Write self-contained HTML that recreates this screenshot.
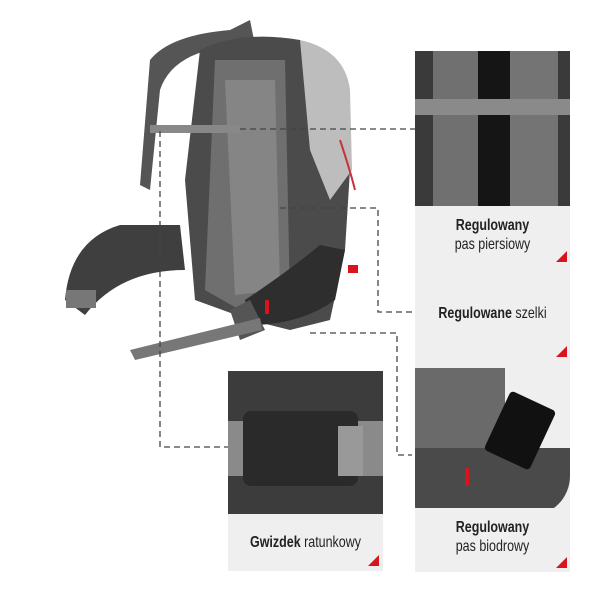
<!DOCTYPE html>
<html><head><style>
body{margin:0;width:600px;height:600px;background:#fff;position:relative;overflow:hidden;font-family:"Liberation Sans",sans-serif}
.p{position:absolute}
.card{position:absolute;background:#efefef}
.t{position:absolute;width:100%;text-align:center;color:#222;font-size:16px;line-height:19px;transform:scaleX(.78)}
.t b{font-weight:bold}
.tri{position:absolute;width:0;height:0;border-left:11px solid transparent;border-bottom:11px solid #d9141f}
</style></head><body>
<svg class="p" style="left:0;top:0" width="600" height="600">
<path d="M150 60 Q170 35 230 30 L250 20 L255 45 Q175 45 160 90 L150 190 L140 185Z" fill="#555"/>
<path d="M200 50 Q240 30 300 40 L330 60 Q352 100 350 170 L345 250 L330 320 L290 330 L250 320 L195 300 L185 180 Z" fill="#4b4b4b"/>
<path d="M300 40 Q345 50 350 90 L352 170 L330 200 L310 150Z" fill="#bdbdbd"/>
<path d="M215 60 L285 60 L290 300 L240 310 L205 290 Z" fill="#6f6f6f"/>
<path d="M225 80 L275 80 L280 290 L235 295Z" fill="#858585"/>
<path d="M65 300 Q70 240 120 225 L180 225 L185 270 Q120 270 85 315Z" fill="#3f3f3f"/>
<path d="M245 300 Q290 270 320 245 L345 250 L335 300 Q300 325 250 325Z" fill="#2e2e2e"/>
<path d="M230 310 L250 300 L265 330 L240 340Z" fill="#555"/>
<path d="M130 350 L260 318 L262 330 L135 360Z" fill="#777"/>
<rect x="66" y="290" width="30" height="18" fill="#777"/>
<rect x="150" y="125" width="90" height="8" fill="#888"/>
<rect x="265" y="300" width="4" height="14" fill="#d9141f"/>
<rect x="348" y="265" width="10" height="8" fill="#d9141f"/>
<path d="M340 140 Q350 170 355 190" stroke="#c8323a" stroke-width="2" fill="none"/>
<g stroke="#444" stroke-width="1.3" stroke-dasharray="6,4" fill="none">
<path d="M240 129 H415"/>
<path d="M160 131 V447 H228"/>
<path d="M280 208 H378 V312 H415"/>
<path d="M310 333 H397 V455 H412"/>
</g>
</svg>

<div class="p" style="left:415px;top:51px;width:155px;height:155px;background:#3a3a3a">
<div class="p" style="left:18px;top:0;width:45px;height:155px;background:#707070"></div>
<div class="p" style="left:95px;top:0;width:48px;height:155px;background:#747474"></div>
<div class="p" style="left:63px;top:0;width:32px;height:155px;background:#151515"></div>
<div class="p" style="left:0;top:48px;width:155px;height:16px;background:#8a8a8a"></div>
</div>
<div class="card" style="left:415px;top:206px;width:155px;height:162px">
<div class="t" style="top:10px"><b>Regulowany</b><br>pas piersiowy</div>
<div class="tri" style="left:141px;top:45px"></div>
<div class="t" style="top:98px"><b>Regulowane</b> szelki</div>
<div class="tri" style="left:141px;top:140px"></div>
</div>

<div class="p" style="left:415px;top:368px;width:155px;height:140px;background:#efefef">
<div class="p" style="left:0;top:0;width:90px;height:85px;background:#6a6a6a"></div>
<div class="p" style="left:0;top:80px;width:155px;height:68px;background:#4a4a4a;border-radius:0 0 40px 10px"></div>
<div class="p" style="left:80px;top:30px;width:50px;height:65px;background:#111;transform:rotate(25deg);border-radius:4px"></div>
<div class="p" style="left:50px;top:100px;width:4px;height:18px;background:#d9141f"></div>
</div>
<div class="card" style="left:415px;top:508px;width:155px;height:64px">
<div class="t" style="top:10px"><b>Regulowany</b><br>pas biodrowy</div>
<div class="tri" style="left:141px;top:49px"></div>
</div>

<div class="p" style="left:228px;top:371px;width:155px;height:143px;background:#3c3c3c">
<div class="p" style="left:0;top:50px;width:155px;height:55px;background:#8a8a8a"></div>
<div class="p" style="left:15px;top:40px;width:115px;height:75px;background:#2a2a2a;border-radius:8px"></div>
<div class="p" style="left:110px;top:55px;width:25px;height:50px;background:#999"></div>
</div>
<div class="card" style="left:228px;top:514px;width:155px;height:57px">
<div class="t" style="top:19px"><b>Gwizdek</b> ratunkowy</div>
<div class="tri" style="left:140px;top:41px"></div>
</div>
</body></html>
